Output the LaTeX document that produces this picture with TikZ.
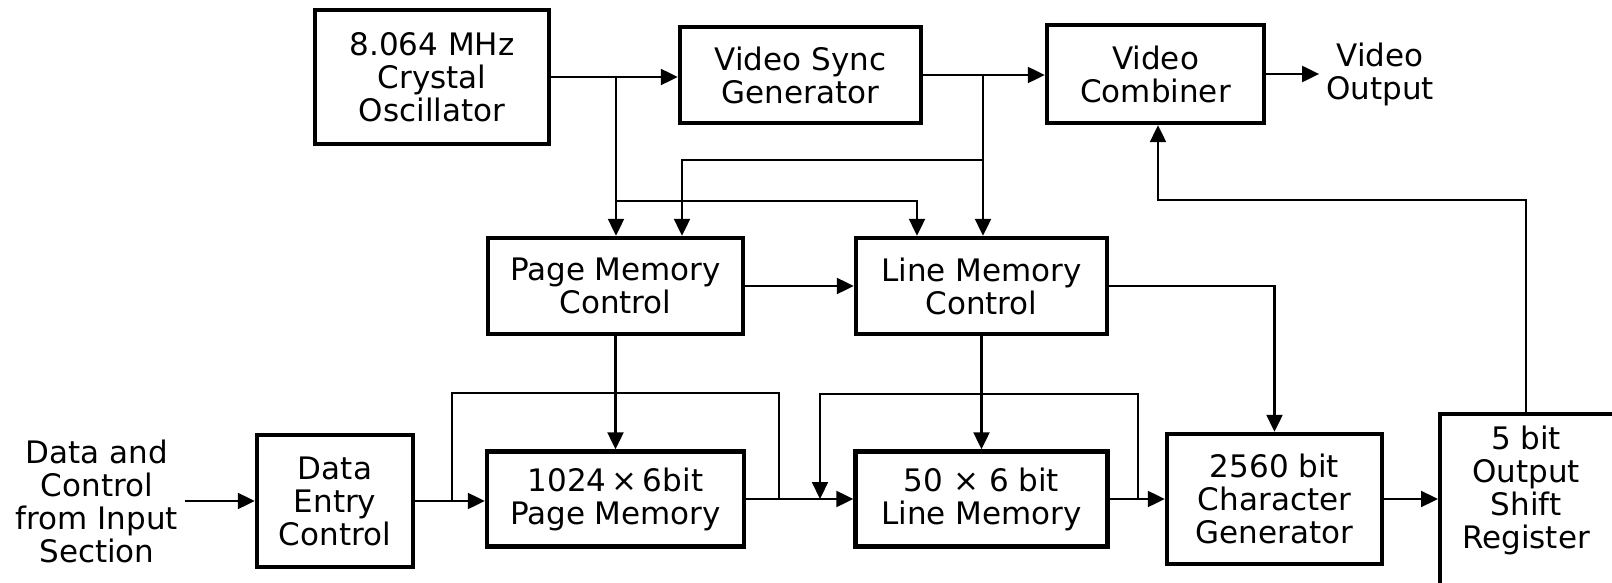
\documentclass[tikz,border=0pt]{standalone}
\usepackage{fontspec}
\setmainfont{DejaVu Sans}
\usetikzlibrary{arrows.meta}
\begin{document}
\begin{tikzpicture}[x=0.5pt,y=-0.5pt,
  txt/.style={align=center, font=\fontsize{15.5}{16.5}\selectfont},
  blk/.style={txt, draw, line width=2.2pt, inner sep=0pt},
  wire/.style={line width=1.1pt},
  arr/.style={wire, -{Triangle[length=8.5pt,width=8pt]}},
]
\clip (0,0) rectangle (1612,583);
% blocks
\node[blk, minimum width=117pt, minimum height=67pt] (osc) at (432,77) {8.064 MHz\\Crystal\\Oscillator};
\node[blk, minimum width=120.5pt, minimum height=48pt] (vsg) at (800.5,75) {Video Sync\\Generator};
\node[blk, minimum width=108.5pt, minimum height=49pt] (vc) at (1155.5,74) {Video\\Combiner};
\node[txt] (out) at (1380,74) {Video\\Output};
\node[blk, minimum width=127.5pt, minimum height=48pt] (pmc) at (615.5,286) {Page Memory\\Control};
\node[blk, minimum width=125.5pt, minimum height=48pt] (lmc) at (981.5,286) {Line Memory\\Control};
\node[txt] (in) at (97,501) {Data and\\Control\\from Input\\Section};
\node[blk, minimum width=78pt, minimum height=66pt] (dec) at (335,501) {Data\\Entry\\Control};
\node[blk, minimum width=128.5pt, minimum height=47.5pt] (pm) at (615.5,499) {1024\,×\,6bit\\Page Memory};
\node[blk, minimum width=126pt, minimum height=47.5pt] (lm) at (981.5,499) {50 × 6 bit\\Line Memory};
\node[blk, minimum width=107.5pt, minimum height=65pt] (cg) at (1274.5,499) {2560 bit\\Character\\Generator};
\node[blk, anchor=north west, minimum width=100pt, minimum height=100pt] (sr) at (1438,412) {};
\node[txt] (srt) at (1526,490) {5 bit\\Output\\Shift\\Register};
% junction points
\coordinate (j1) at (616,77);
\coordinate (j2) at (917,201);
\coordinate (j3) at (983,75);
\coordinate (j4) at (682,160);
\coordinate (k1) at (452,393);
\coordinate (k2) at (779,393);
\coordinate (k3) at (1138,394);
\coordinate (k4) at (820,394);
\coordinate (k5) at (1158,200);
% connectors
\draw[arr] (osc.east) -- (osc.east -| vsg.west);
\draw[arr] (j1) -- (j1 |- pmc.north);
\draw[arr] (j1 |- j2) -- (j2) -- (j2 |- lmc.north);
\draw[arr] (vsg) -- (vsg -| vc.west);
\draw[arr] (j3) -- (j3 |- lmc.north);
\draw[arr] (j3 |- j4) -- (j4) -- (j4 |- pmc.north);
\draw[arr] (vc) -- (out);
\draw[arr] (pmc) -- (lmc);
\draw[arr] (lmc) -| (cg);
\draw[arr] (pmc) -- (pm);
\draw[arr] (lmc) -- (lm);
\draw[arr] (in) -- (dec);
\draw[arr] (dec) -- (dec -| pm.west);
\draw[wire] (dec -| k1) -- (k1) -- (k2) -- (k2 |- pm);
\draw[arr] (pm) -- (lm);
\draw[arr] (lm) -- (lm -| cg.west);
\draw[arr] (lm -| k3) -- (k3) -- (k4) -- (k4 |- pm);
\draw[arr] (cg) -- (cg -| sr.west);
\draw[arr] (sr.north -| srt) |- (k5) -- (k5 |- vc.south);
\end{tikzpicture}
\end{document}
